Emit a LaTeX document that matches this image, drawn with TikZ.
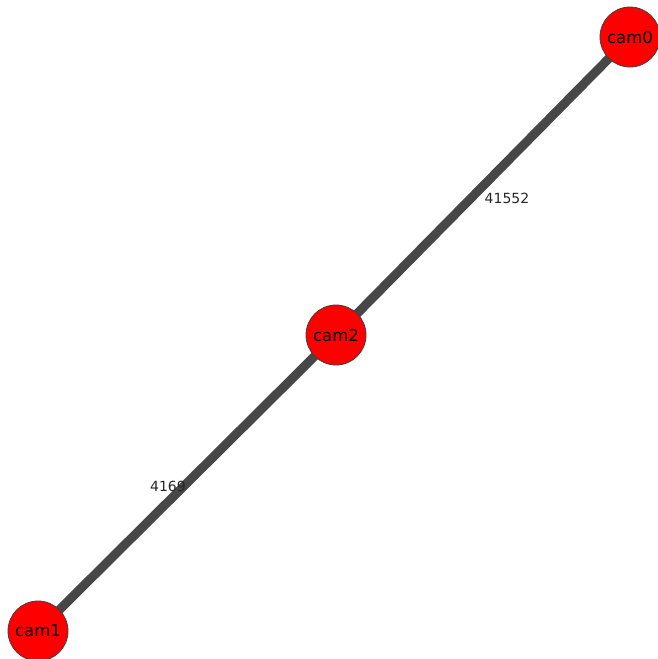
\documentclass[tikz,border=0pt]{standalone}
\usepackage{fontspec}
\setmainfont{DejaVu Sans}
\begin{document}
\begin{tikzpicture}[x=1pt,y=-1pt,
  cam/.style={circle,fill=red,draw=black!75,line width=0.8pt,minimum size=60pt,inner sep=0pt,font=\fontsize{16.5}{18}\selectfont},
  edge/.style={draw=black!72,line width=9pt},
  elabel/.style={font=\fontsize{14}{16}\selectfont,text=black!85,inner sep=0pt}]
\useasboundingbox (0,0) rectangle (658,659);
\coordinate (c0) at (630,37);
\coordinate (c2) at (336,335);
\coordinate (c1) at (38,631);
\draw[edge] (c0) -- (c2);
\draw[edge] (c2) -- (c1);
\node[cam] (cam0) at (c0) {cam0};
\node[cam] (cam2) at (c2) {cam2};
\node[cam] (cam1) at (c1) {cam1};
\node[elabel] (l1) at (507,198) {41552};
\node[elabel] (l2) at (168,486) {4169};
\end{tikzpicture}
\end{document}
